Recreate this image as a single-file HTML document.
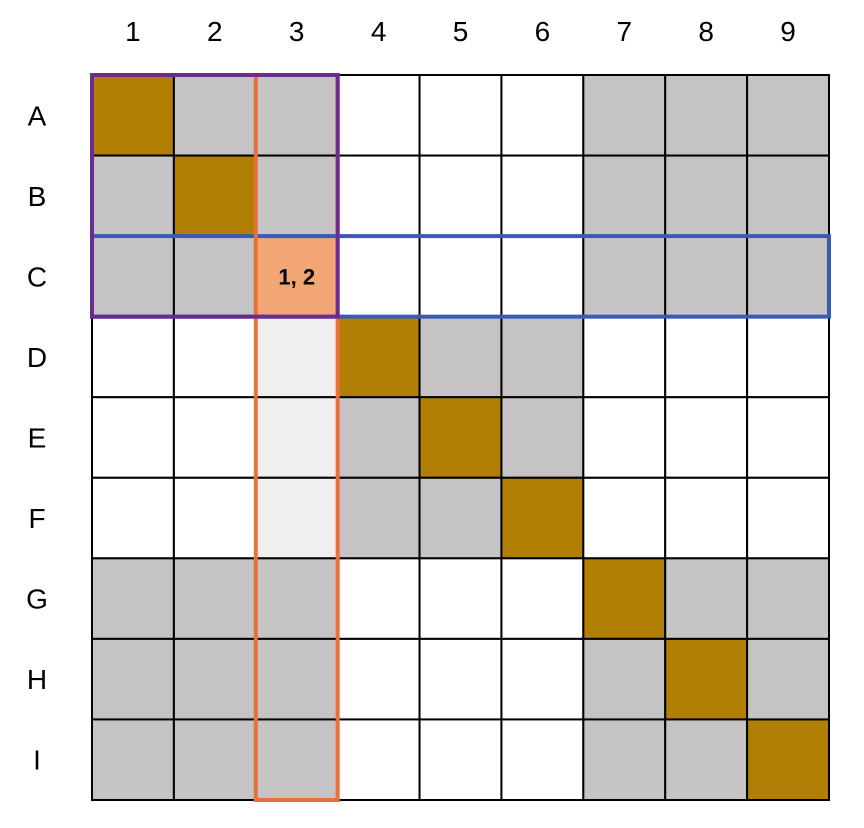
<!DOCTYPE html>
<html><head><meta charset="utf-8"><style>
html,body{margin:0;padding:0;background:#fff;}
svg{display:block;font-family:"Liberation Sans",sans-serif;}
</style></head><body>
<svg id="chart" width="864" height="828" viewBox="0 0 864 828"></svg>
<script>
const colLabels=["1","2","3","4","5","6","7","8","9"];
const rowLabels=["A","B","C","D","E","F","G","H","I"];
// cell types: 0 white, 1 gray, 2 gold, 3 light, 4 orange
const cellTypes=[
[2,1,1,0,0,0,1,1,1],
[1,2,1,0,0,0,1,1,1],
[1,1,4,0,0,0,1,1,1],
[0,0,3,2,1,1,0,0,0],
[0,0,3,1,2,1,0,0,0],
[0,0,3,1,1,2,0,0,0],
[1,1,1,0,0,0,2,1,1],
[1,1,1,0,0,0,1,2,1],
[1,1,1,0,0,0,1,1,2]];
const cellText={"2,2":"1, 2"};
const highlights=[
 {name:"row-highlight",r0:2,r1:2,c0:0,c1:8,color:"#3a5bb4"},
 {name:"column-highlight",r0:0,r1:8,c0:2,c1:2,color:"#e8703a"},
 {name:"box-highlight",r0:0,r1:2,c0:0,c1:2,color:"#6a2c8f"}];
const fills=["#ffffff","#c5c3c3","#b07f04","#efefef","#f2a673"];
const X0=92,X1=829,Y0=75,Y1=800;
const cw=(X1-X0)/9,rh=(Y1-Y0)/9;
const xs=c=>X0+c*cw, ys=r=>Y0+r*rh;
const svg=document.getElementById('chart');
const NS="http://www.w3.org/2000/svg";
function mk(t,a){const e=document.createElementNS(NS,t);for(const k in a)e.setAttribute(k,a[k]);svg.appendChild(e);return e;}
cellTypes.forEach((row,r)=>row.forEach((v,c)=>{
 const e=mk('rect',{x:xs(c),y:ys(r),width:cw,height:rh,fill:fills[v],stroke:"#000","stroke-width":2});
 
 
 const t=cellText[r+","+c];
 if(t){const tx=mk('text',{x:xs(c)+cw/2,y:ys(r)+rh/2+8,"text-anchor":"middle","font-size":22,"font-weight":"bold",fill:"#000"});tx.textContent=t;
 
 }
}));
colLabels.forEach((l,c)=>{const t=mk('text',{x:xs(c)+cw/2,y:41,"text-anchor":"middle","font-size":28,fill:"#000"});t.textContent=l;
 
 });
rowLabels.forEach((l,r)=>{const t=mk('text',{x:37,y:ys(r)+rh/2+10,"text-anchor":"middle","font-size":28,fill:"#000"});t.textContent=l;
 
 });
highlights.forEach(h=>{const e=mk('rect',{x:xs(h.c0),y:ys(h.r0),width:xs(h.c1+1)-xs(h.c0),height:ys(h.r1+1)-ys(h.r0),fill:"none",stroke:h.color,"stroke-width":4});
 
 });
</script>
</body></html>
